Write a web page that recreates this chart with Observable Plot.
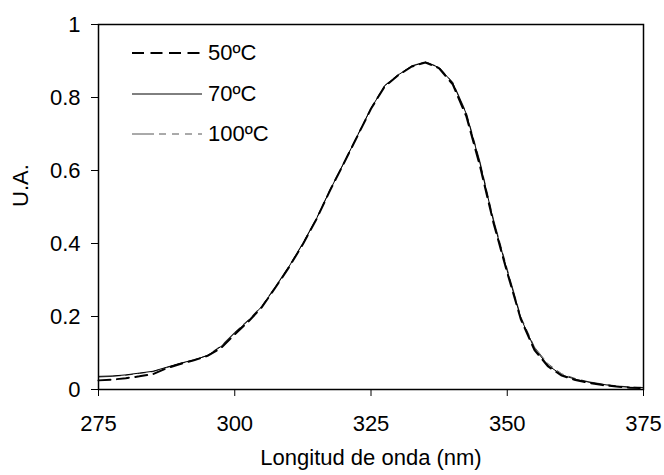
<!DOCTYPE html>
<html>
<head>
<meta charset="utf-8">
<script src="https://cdn.jsdelivr.net/npm/d3@7"></script>
<script src="https://cdn.jsdelivr.net/npm/@observablehq/plot@0.6"></script>
<style>
  html, body { margin: 0; padding: 0; background: #fff; }
  #wrap { position: relative; width: 664px; height: 475px; font-family: "Liberation Sans", Arial, sans-serif; }
  #legend { position: absolute; left: 132px; top: 33px; font-size: 22px; color: #000; }
  .row { display: flex; align-items: center; height: 40.5px; }
  .row svg { display: block; margin-right: 6px; }
</style>
</head>
<body>
<div id="wrap"><div id="legend"></div></div>
<script>
const wavelength = [275, 277.5, 280, 282.5, 285, 287.5, 290, 292.5, 295, 297.5,
  300, 302.5, 305, 307.5, 310, 312.5, 315, 317.5, 320, 322.5,
  325, 327.5, 330, 332.5, 335, 337.5, 340, 342.5, 345, 347.5,
  350, 352.5, 355, 357.5, 360, 362.5, 365, 367.5, 370, 372.5, 375];

const ua50 = [0.025, 0.027, 0.031, 0.036, 0.042, 0.058, 0.070, 0.080, 0.092, 0.114,
  0.151, 0.186, 0.226, 0.280, 0.336, 0.398, 0.467, 0.546, 0.619, 0.694,
  0.769, 0.830, 0.861, 0.885, 0.896, 0.880, 0.836, 0.748, 0.612, 0.455,
  0.320, 0.192, 0.108, 0.063, 0.038, 0.026, 0.018, 0.012, 0.008, 0.005, 0.004];

const ua70 = [0.036, 0.037, 0.040, 0.045, 0.050, 0.061, 0.072, 0.081, 0.093, 0.118,
  0.155, 0.189, 0.228, 0.281, 0.338, 0.400, 0.468, 0.547, 0.620, 0.695,
  0.770, 0.832, 0.862, 0.886, 0.897, 0.882, 0.840, 0.755, 0.620, 0.460,
  0.325, 0.195, 0.112, 0.066, 0.040, 0.028, 0.020, 0.014, 0.009, 0.006, 0.005];

const ua100 = [0.034, 0.036, 0.039, 0.044, 0.049, 0.060, 0.071, 0.080, 0.094, 0.120,
  0.157, 0.191, 0.230, 0.283, 0.339, 0.401, 0.469, 0.548, 0.621, 0.696,
  0.771, 0.833, 0.863, 0.887, 0.898, 0.883, 0.842, 0.758, 0.624, 0.465,
  0.330, 0.199, 0.116, 0.070, 0.043, 0.030, 0.021, 0.015, 0.010, 0.007, 0.006];

const seriesNames = ["50ºC", "70ºC", "100ºC"];
const xTicks = [275, 300, 325, 350, 375];
const yTicks = [0, 0.2, 0.4, 0.6, 0.8, 1];
const xLabel = "Longitud de onda (nm)";
const yLabel = "U.A.";

const styles = {
  "50ºC": {stroke: "#000", strokeWidth: 2, dash: "12,6.5"},
  "70ºC": {stroke: "#000", strokeWidth: 1, dash: null},
  "100ºC": {stroke: "#555", strokeWidth: 1, dash: "22,5,7,6,7,6,7,6"}
};

const rows = (vals) => wavelength.map((w, i) => ({w, v: vals[i]}));
const d50 = rows(ua50), d70 = rows(ua70), d100 = rows(ua100);

const lineMark = (data, name) => Plot.line(data, {
  x: "w", y: "v", stroke: styles[name].stroke, strokeWidth: styles[name].strokeWidth,
  strokeDasharray: styles[name].dash || undefined, curve: "linear"
});

const chart = Plot.plot({
  width: 664,
  height: 475,
  marginLeft: 98,
  marginRight: 21,
  marginTop: 24,
  marginBottom: 86,
  style: {fontFamily: '"Liberation Sans", Arial, sans-serif', fontSize: "22px", color: "#000", background: "#fff"},
  x: {domain: [275, 375]},
  y: {domain: [0, 1]},
  marks: [
    Plot.axisX({ticks: xTicks, tickSize: 7, tickPadding: 19, label: null, fontSize: 22, tickFormat: d => String(d)}),
    Plot.axisY({ticks: yTicks, tickSize: 7, tickPadding: 11, label: null, fontSize: 22, tickFormat: d => String(d)}),
    lineMark(d100, "100ºC"),
    lineMark(d70, "70ºC"),
    lineMark(d50, "50ºC"),
    Plot.frame({stroke: "#000", strokeWidth: 1.5}),
    Plot.text([xLabel], {frameAnchor: "bottom", dy: 75, fontSize: 22, fill: "#000"}),
    Plot.text([yLabel], {frameAnchor: "left", dx: -78, rotate: -90, fontSize: 22, fill: "#000"})
  ]
});

const wrap = document.getElementById("wrap");
wrap.insertBefore(chart, wrap.firstChild);

const legend = document.getElementById("legend");
for (const name of seriesNames) {
  const s = styles[name];
  const row = document.createElement("div");
  row.className = "row";
  const ns = "http://www.w3.org/2000/svg";
  const svg = document.createElementNS(ns, "svg");
  svg.setAttribute("width", 70);
  svg.setAttribute("height", 10);
  const ln = document.createElementNS(ns, "line");
  ln.setAttribute("x1", 0); ln.setAttribute("x2", 70);
  ln.setAttribute("y1", 5); ln.setAttribute("y2", 5);
  ln.setAttribute("stroke", s.stroke);
  ln.setAttribute("stroke-width", s.strokeWidth);
  if (s.dash) ln.setAttribute("stroke-dasharray", s.dash);
  svg.appendChild(ln);
  row.appendChild(svg);
  const t = document.createElement("span");
  t.textContent = name;
  row.appendChild(t);
  legend.appendChild(row);
}
</script>
<style>#wrap > svg { position: absolute; left: 0; top: 0; }</style>
</body>
</html>
